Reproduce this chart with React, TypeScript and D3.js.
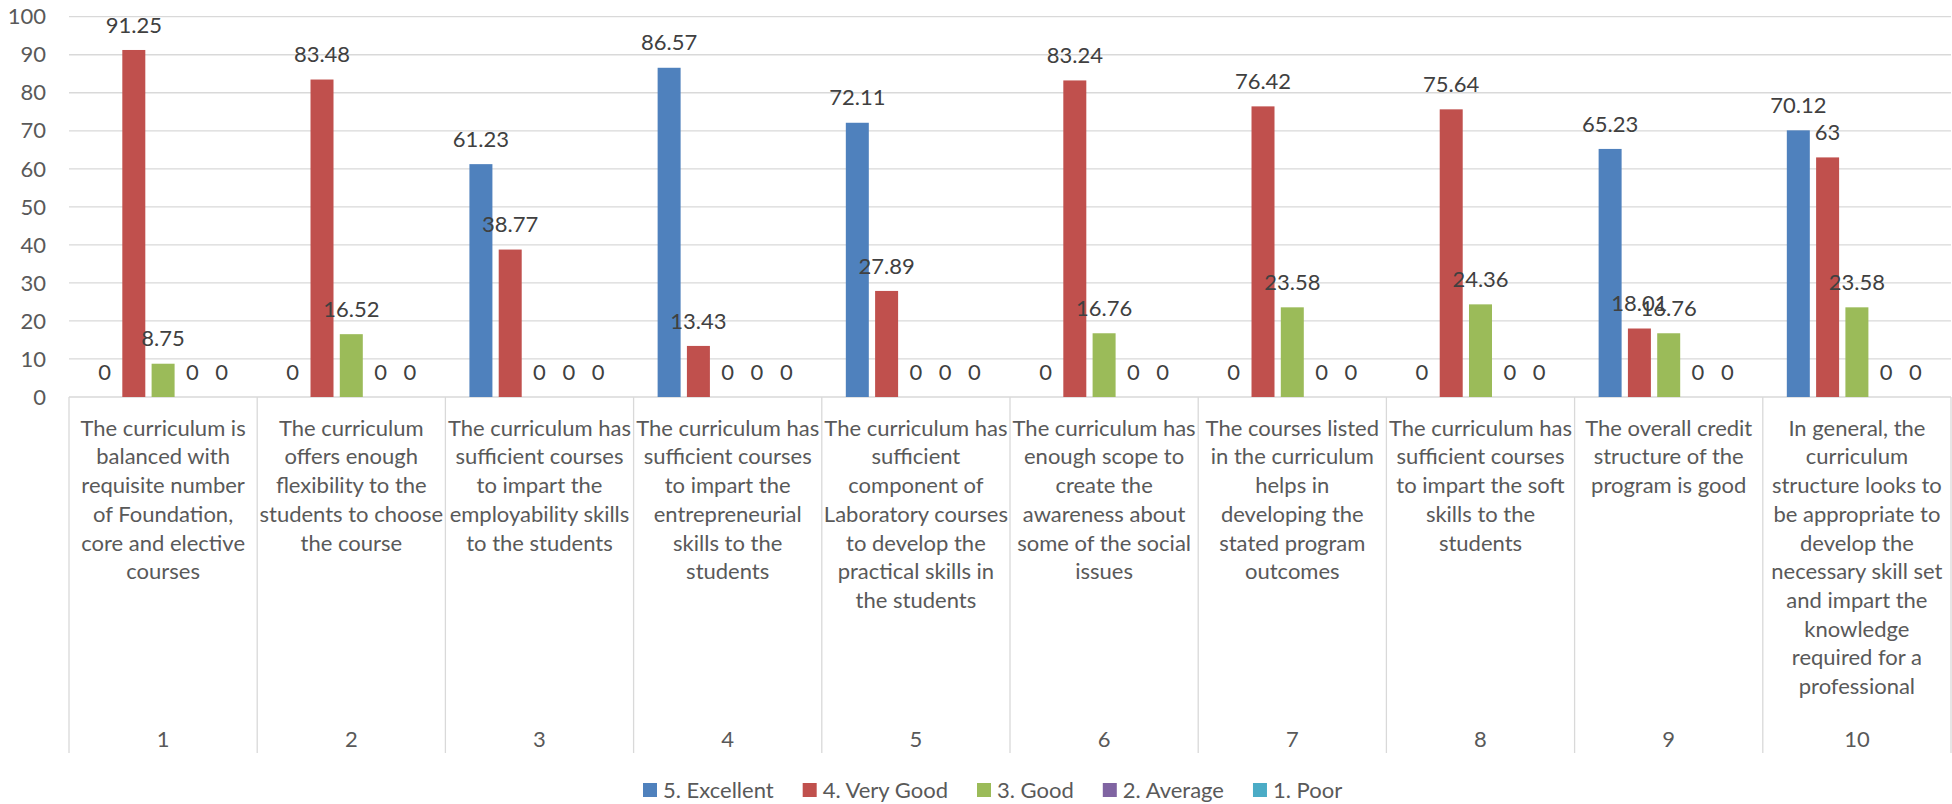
import React, { useEffect, useRef } from "react";
import * as d3 from "d3";

const categories = ["1", "2", "3", "4", "5", "6", "7", "8", "9", "10"];

const categoryText: string[][] = [
  ["The curriculum is", "balanced with", "requisite number", "of Foundation,", "core and elective", "courses"],
  ["The curriculum", "offers enough", "flexibility to the", "students to choose", "the course"],
  ["The curriculum has", "sufficient courses", "to impart the", "employability skills", "to the students"],
  ["The curriculum has", "sufficient courses", "to impart the", "entrepreneurial", "skills to the", "students"],
  ["The curriculum has", "sufficient", "component of", "Laboratory courses", "to develop the", "practical skills in", "the students"],
  ["The curriculum has", "enough scope to", "create the", "awareness about", "some of the social", "issues"],
  ["The courses listed", "in the curriculum", "helps in", "developing the", "stated program", "outcomes"],
  ["The curriculum has", "sufficient courses", "to impart the soft", "skills to the", "students"],
  ["The overall credit", "structure of the", "program is good"],
  ["In general, the", "curriculum", "structure looks to", "be appropriate to", "develop the", "necessary skill set", "and impart the", "knowledge", "required for a", "professional"],
];

const seriesNames = ["5. Excellent", "4. Very Good", "3. Good", "2. Average", "1. Poor"];
const excellent = [0, 0, 61.23, 86.57, 72.11, 0, 0, 0, 65.23, 70.12];
const veryGood = [91.25, 83.48, 38.77, 13.43, 27.89, 83.24, 76.42, 75.64, 18.01, 63];
const good = [8.75, 16.52, 0, 0, 0, 16.76, 23.58, 24.36, 16.76, 23.58];
const average = [0, 0, 0, 0, 0, 0, 0, 0, 0, 0];
const poor = [0, 0, 0, 0, 0, 0, 0, 0, 0, 0];
const seriesValues = [excellent, veryGood, good, average, poor];
const seriesColors = ["#4f81bd", "#c0504d", "#9bbb59", "#8064a2", "#4bacc6"];
const yTicks = [0, 10, 20, 30, 40, 50, 60, 70, 80, 90, 100];

const W = 1952;
const H = 804;
const FONT = "Lato, 'Open Sans', sans-serif";
const FS = 22;

export default function App() {
  const ref = useRef<SVGSVGElement>(null);

  useEffect(() => {
    const svg = d3.select(ref.current);
    svg.selectAll("*").remove();

    const left = 69;
    const right = 1951;
    const top = 16.7;
    const bottom = 397;

    const x0 = d3.scaleBand<string>().domain(categories).range([left, right]).paddingInner(0).paddingOuter(0);
    const x1 = d3
      .scaleBand<string>()
      .domain(seriesNames)
      .range([0, x0.bandwidth()])
      .paddingInner(0.215)
      .paddingOuter(0.82);
    const y = d3.scaleLinear().domain([0, 100]).range([bottom, top]);

    const g = svg.append("g").attr("font-family", FONT);

    // gridlines
    g.selectAll("line.grid")
      .data(yTicks)
      .join("line")
      .attr("x1", left)
      .attr("x2", right)
      .attr("y1", (d) => y(d))
      .attr("y2", (d) => y(d))
      .attr("stroke", "#d9d9d9")
      .attr("stroke-width", 1.3);

    // y tick labels
    g.selectAll("text.ytick")
      .data(yTicks)
      .join("text")
      .attr("x", 46)
      .attr("y", (d) => y(d))
      .attr("dy", "0.35em")
      .attr("text-anchor", "end")
      .attr("font-size", FS)
      .attr("fill", "#595959")
      .text((d) => String(d));

    // category separators
    const sepX = categories.map((c) => x0(c) as number).concat([right]);
    g.selectAll("line.sep")
      .data(sepX)
      .join("line")
      .attr("x1", (d) => d)
      .attr("x2", (d) => d)
      .attr("y1", bottom)
      .attr("y2", 753)
      .attr("stroke", "#d9d9d9")
      .attr("stroke-width", 1.3);

    // bars
    seriesNames.forEach((s, si) => {
      const vals = seriesValues[si];
      const grp = g.append("g");
      grp
        .selectAll("rect")
        .data(vals)
        .join("rect")
        .attr("x", (_d, i) => (x0(categories[i]) as number) + (x1(s) as number))
        .attr("width", x1.bandwidth())
        .attr("y", (d) => y(d))
        .attr("height", (d) => bottom - y(d))
        .attr("fill", seriesColors[si]);
    });

    // data labels
    seriesNames.forEach((s, si) => {
      const vals = seriesValues[si];
      g.append("g")
        .selectAll("text")
        .data(vals)
        .join("text")
        .attr("x", (_d, i) => (x0(categories[i]) as number) + (x1(s) as number) + x1.bandwidth() / 2)
        .attr("y", (d) => y(d) - 25)
        .attr("dy", "0.35em")
        .attr("text-anchor", "middle")
        .attr("font-size", FS)
        .attr("fill", "#404040")
        .text((d) => String(d));
    });

    // category labels
    categories.forEach((c, i) => {
      const cx = (x0(c) as number) + x0.bandwidth() / 2;
      const t = g
        .append("text")
        .attr("text-anchor", "middle")
        .attr("font-size", FS)
        .attr("fill", "#595959");
      categoryText[i].forEach((line, li) => {
        t.append("tspan")
          .attr("x", cx)
          .attr("y", 428 + li * 28.7)
          .attr("dy", "0.35em")
          .text(line);
      });
      g.append("text")
        .attr("x", cx)
        .attr("y", 739)
        .attr("dy", "0.35em")
        .attr("text-anchor", "middle")
        .attr("font-size", FS)
        .attr("fill", "#595959")
        .text(c);
    });

    // legend
    let lx = 643;
    const ly = 790;
    seriesNames.forEach((s, si) => {
      g.append("rect")
        .attr("x", lx)
        .attr("y", ly - 7)
        .attr("width", 14)
        .attr("height", 14)
        .attr("fill", seriesColors[si]);
      const txt = g
        .append("text")
        .attr("x", lx + 20)
        .attr("y", ly)
        .attr("dy", "0.35em")
        .attr("font-size", FS)
        .attr("fill", "#595959")
        .text(s);
      const w = (txt.node() as SVGTextElement).getComputedTextLength();
      lx = lx + 20 + w + 29;
    });
  }, []);

  return (
    <svg
      ref={ref}
      width={W}
      height={H}
      viewBox={`0 0 ${W} ${H}`}
      style={{ position: "fixed", left: 0, top: 0, background: "#fff" }}
    />
  );
}
